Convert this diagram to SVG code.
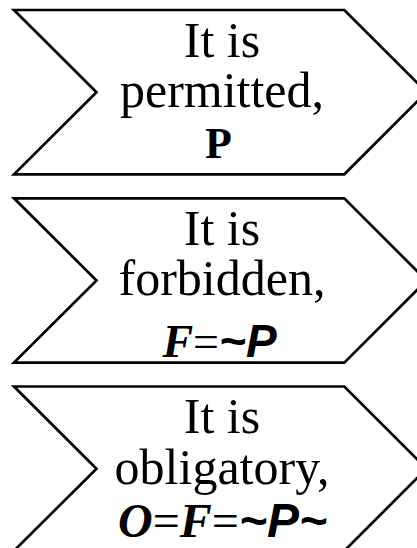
<svg xmlns="http://www.w3.org/2000/svg" width="417" height="548" viewBox="0 0 417 548">
<style>
.shape{fill:#fff;stroke:#000;stroke-width:2.7;stroke-linejoin:miter}
.t{font-family:"Liberation Serif","Times New Roman",serif;font-size:50px;fill:#000;text-anchor:middle}
.f{font-family:"Liberation Serif","Times New Roman",serif;font-size:46px;fill:#000;text-anchor:middle}
.bi{font-weight:bold;font-style:italic}
.s{font-family:"Liberation Sans",Arial,sans-serif;font-weight:bold;font-style:italic}
</style>
<defs>
<path id="chev" d="M14,10 L344.3,10 L426.5,92.2 L344.3,174.3 L14,174.3 L96.5,92.2 Z"/>
</defs>
<g id="node-permitted">
<use href="#chev" class="shape"/>
<text class="t" x="222" y="56.7">It is</text>
<text class="t" x="222" y="107">permitted,</text>
<text class="t" x="218.5" y="158.3" style="font-size:44px;font-weight:bold">P</text>
</g>
<g id="node-forbidden" transform="translate(0,188.3)">
<use href="#chev" class="shape"/>
<text class="t" x="222" y="56.7">It is</text>
<text class="t" x="222" y="107">forbidden,</text>
<text class="f" x="219.5" y="168.3"><tspan class="bi">F</tspan>=<tspan class="s">~P</tspan></text>
</g>
<g id="node-obligatory" transform="translate(0,376.5)">
<use href="#chev" class="shape"/>
<text class="t" x="222" y="56.7">It is</text>
<text class="t" x="222" y="107">obligatory,</text>
<text class="f" x="222.5" y="160" style="font-size:48px"><tspan class="bi">O</tspan>=<tspan class="bi">F</tspan>=<tspan class="s">~P~</tspan></text>
</g>
<g id="connectors"></g>
</svg>
